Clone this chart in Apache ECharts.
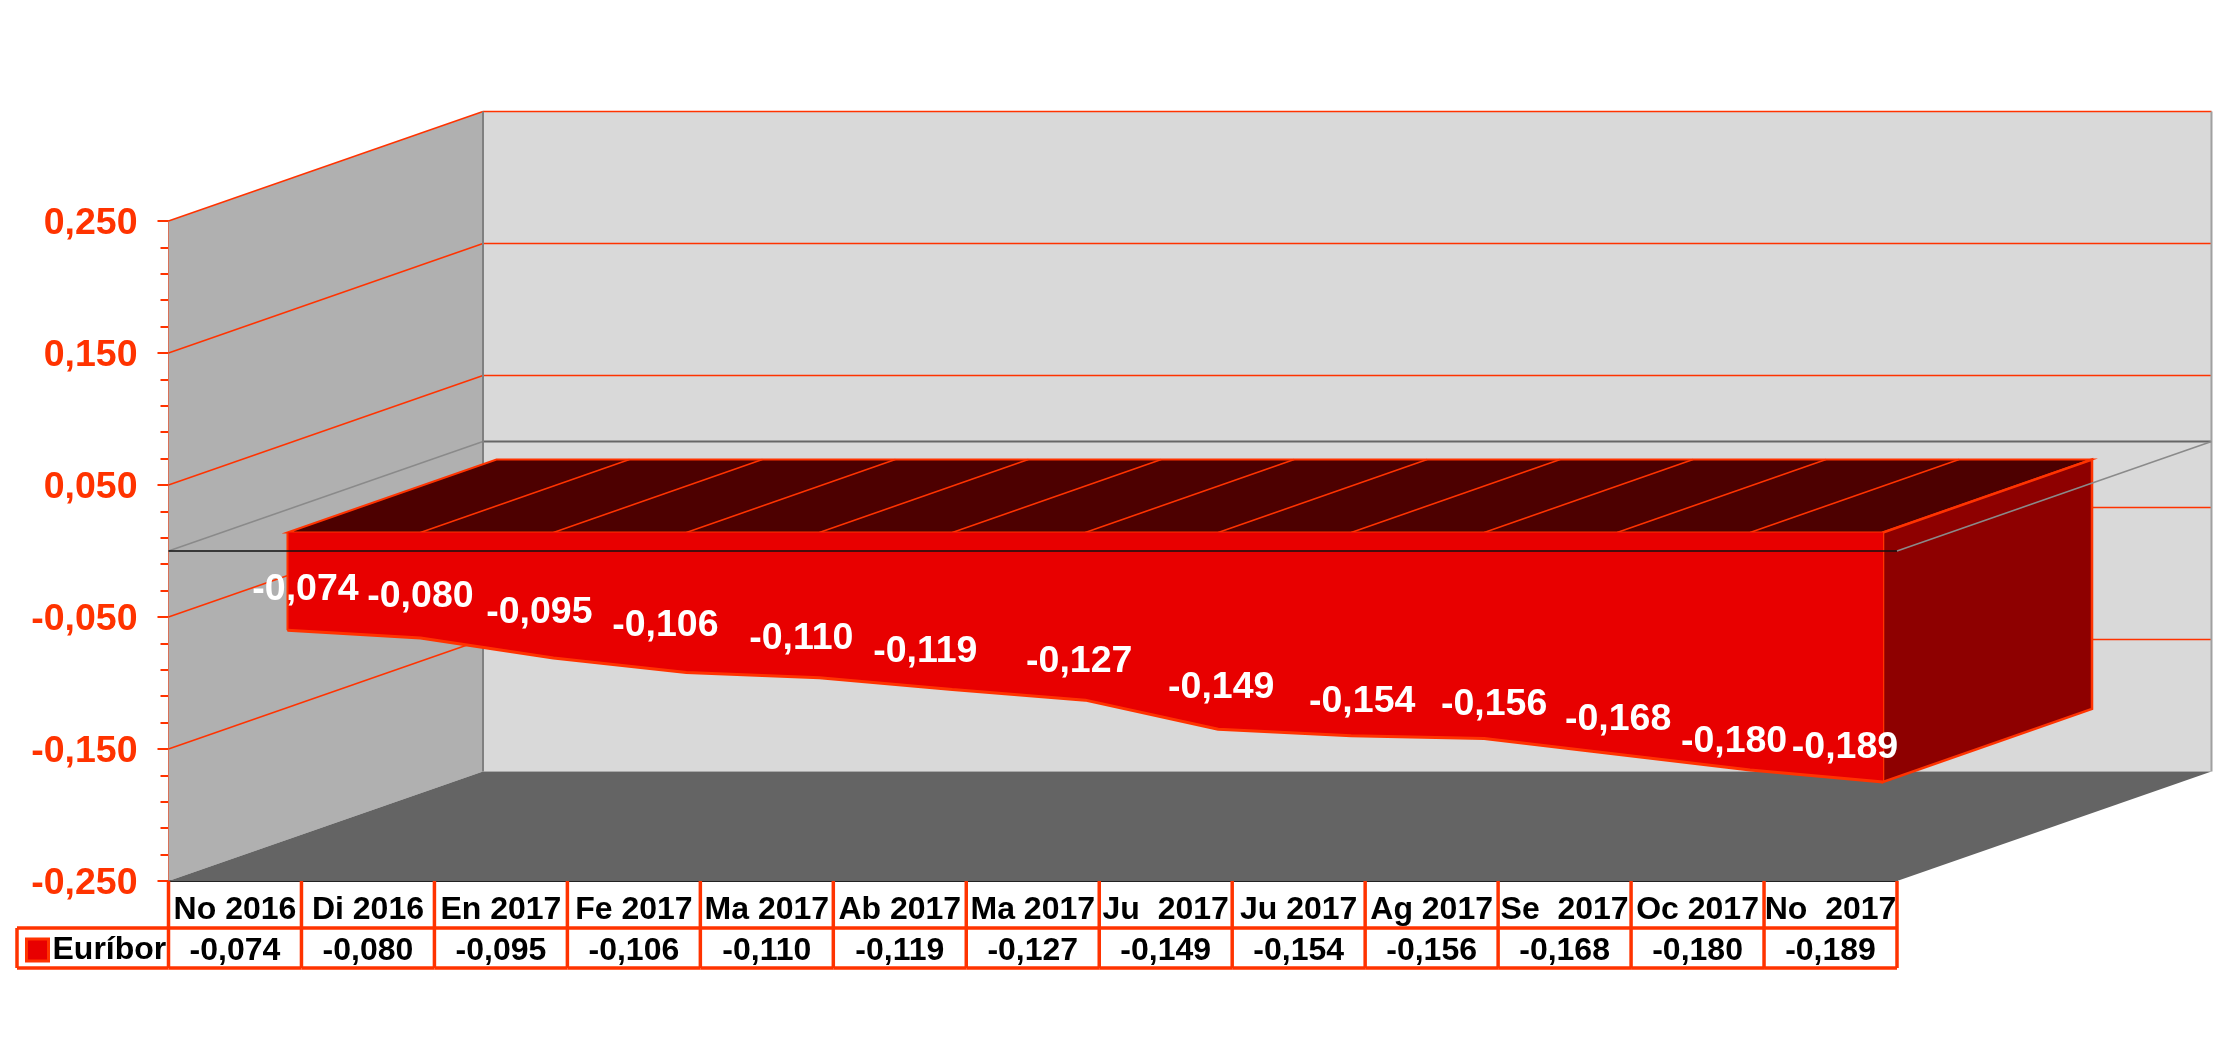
<!DOCTYPE html>
<html><head><meta charset="utf-8">
<style>html,body{margin:0;padding:0;background:#fff}#c{width:2221px;height:1061px}</style>
<script src="https://cdn.jsdelivr.net/npm/echarts@6/dist/echarts.min.js"></script>
</head><body><div id="c"></div>
<script>
const categories = ['No 2016','Di 2016','En 2017','Fe 2017','Ma 2017','Ab 2017','Ma 2017','Ju  2017','Ju 2017','Ag 2017','Se  2017','Oc 2017','No  2017'];
const euribor = [-0.074,-0.080,-0.095,-0.106,-0.110,-0.119,-0.127,-0.149,-0.154,-0.156,-0.168,-0.180,-0.189];
const yTicks = [0.25,0.15,0.05,-0.05,-0.15,-0.25];
const seriesName = 'Euríbor';

// layout only (pixels), not data
const labelNudgeX = [18,0,-14,-21,-18,-27,-6,3,11,10,1,-16,-38];
const labelNudgeY = [-41,-41,-45,-47,-39,-38,-38,-42,-34,-34,-35,-28,-34];
const WALL = {dx:314.5, dy:-109.5};
const BLOCK = {dx:209, dy:-73};
const FRONT = {dx:52.5, dy:-18.5};
const ROW = {h1:47, h2:40, legendLeft:17};
const GRID = {left:168.5, top:221, width:1728.5, height:660};
const ORANGE = '#ff3300', FONT = '"Liberation Sans", Arial, sans-serif';

const fmt = v => v.toFixed(3).replace('.', ',');
const line = (x1,y1,x2,y2,stroke,lineWidth) => ({type:'line',shape:{x1,y1,x2,y2},style:{stroke,lineWidth},silent:true});
const poly = (points,fill,stroke,lineWidth) => ({type:'polygon',shape:{points},style:{fill,stroke,lineWidth},silent:true});

function renderWalls(p, api){
  const c = p.coordSys, L=c.x, R=c.x+c.width;
  const y = v => api.coord([0,v])[1];
  const top=y(0.25), bot=y(-0.25);
  const ch=[
    poly([[L,top],[L+WALL.dx,top+WALL.dy],[L+WALL.dx,bot+WALL.dy],[L,bot]],'#b0b0b0'),
    poly([[L+WALL.dx,top+WALL.dy],[R+WALL.dx,top+WALL.dy],[R+WALL.dx,bot+WALL.dy],[L+WALL.dx,bot+WALL.dy]],'#d9d9d9'),
    poly([[L,bot],[L+WALL.dx,bot+WALL.dy],[R+WALL.dx,bot+WALL.dy],[R,bot]],'#646464')
  ];
  yTicks.forEach(v=>{
    const yy=y(v);
    if(v>-0.25) ch.push(line(L,yy,L+WALL.dx,yy+WALL.dy,ORANGE,1.5));
    if(v>-0.25) ch.push(line(L+WALL.dx,yy+WALL.dy,R+WALL.dx,yy+WALL.dy,ORANGE,1.5));
  });
  const z=y(0);
  ch.push(line(L,z,L+WALL.dx,z+WALL.dy,'#8a8a8a',1.5));
  ch.push(line(L+WALL.dx,z+WALL.dy,R+WALL.dx,z+WALL.dy,'#666666',2));
  ch.push(line(L+WALL.dx,top+WALL.dy,L+WALL.dx,bot+WALL.dy,'#808080',2));
  ch.push(line(R+WALL.dx,top+WALL.dy,R+WALL.dx,bot+WALL.dy,'#a0a0a0',2));
  return {type:'group',children:ch};
}
function renderBlock(p, api){
  const n=categories.length;
  const pt=(i,v)=>api.coord([i,v]);
  const a=pt(0,0), b=pt(n-1,0), e=pt(n-1,euribor[n-1]);
  const d=(q)=>[q[0]+BLOCK.dx,q[1]+BLOCK.dy];
  const ch=[
    poly([a,d(a),d(b),b],'#4d0000',ORANGE,2),
    poly([b,d(b),d(e),e],'#8e0000',ORANGE,2.5)
  ];
  for(let i=1;i<n-1;i++){const q=pt(i,0),r=d(q);ch.push(line(q[0],q[1],r[0],r[1],ORANGE,1.5));}
  return {type:'group',children:ch};
}
function renderEdges(p, api){
  const a=api.coord([0,0]), e=api.coord([0,euribor[0]]);
  return line(a[0],a[1],e[0],e[1],ORANGE,2);
}
function renderZero(p, api){
  const c=p.coordSys, L=c.x, R=c.x+c.width, z=api.coord([0,0])[1];
  return {type:'group',children:[
    line(L,z,R,z,'#111111',1.5),
    line(R,z,R+WALL.dx,z+WALL.dy,'#8a8a8a',1.5)
  ]};
}
function renderTable(p, api){
  const i=api.value(0), c=p.coordSys, w=c.width/categories.length;
  const bot=c.y+c.height, x0=c.x+i*w, x1=x0+w, y1=bot+ROW.h1, y2=y1+ROW.h2;
  const ch=[
    line(x1,bot,x1,y2,ORANGE,3.5),
    line(x0,y1,x1,y1,ORANGE,3.5),
    line(x0,y2,x1,y2,ORANGE,3.5),
    {type:'text',silent:true,style:{text:fmt(api.value(1)),x:(x0+x1)/2,y:(y1+y2)/2+3,align:'center',verticalAlign:'middle',
      fill:'#000',font:'bold 32px '+FONT}}
  ];
  if(i===0){
    ch.push(line(x0,bot,x0,y2,ORANGE,3.5));
    ch.push(line(ROW.legendLeft,y1,x0,y1,ORANGE,3.5));
    ch.push(line(ROW.legendLeft,y2,x0,y2,ORANGE,3.5));
    ch.push(line(ROW.legendLeft,y1,ROW.legendLeft,y2,ORANGE,3.5));
  }
  return {type:'group',children:ch};
}

const idx = categories.map((_,i)=>[i,euribor[i]]);
const hiddenX = {type:'category',gridIndex:1,data:categories,show:false};
const option = {
  animation:false,
  backgroundColor:'#fff',
  textStyle:{fontFamily:FONT},
  grid:[
    {left:GRID.left,top:GRID.top,width:GRID.width,height:GRID.height},
    {left:GRID.left+FRONT.dx,top:GRID.top+FRONT.dy,width:GRID.width,height:GRID.height}
  ],
  legend:{
    data:[{name:seriesName,icon:'rect'}],
    left:25,top:934,itemWidth:22,itemHeight:22,itemGap:0,padding:0,
    itemStyle:{color:'#e80000',borderColor:ORANGE,borderWidth:3},
    textStyle:{color:'#000',fontFamily:FONT,fontWeight:'bold',fontSize:32,padding:[0,0,0,-1]},
    selectedMode:false
  },
  xAxis:[
    {type:'category',gridIndex:0,data:categories,position:'bottom',
     axisLine:{onZero:false,lineStyle:{color:'#222222',width:2}},axisTick:{show:false},
     axisLabel:{interval:0,color:'#000',fontFamily:FONT,fontWeight:'bold',fontSize:32,margin:13}},
    hiddenX
  ],
  yAxis:[
    {type:'value',gridIndex:0,min:-0.25,max:0.25,interval:0.1,
     axisLine:{show:true,lineStyle:{color:ORANGE,width:2}},
     axisTick:{show:true,length:11,lineStyle:{color:ORANGE,width:2}},
     minorTick:{show:true,splitNumber:5,length:8,lineStyle:{color:ORANGE,width:2}},
     splitLine:{show:false},
     axisLabel:{margin:31,formatter:v=>'{t|'+fmt(v)+'}',
       rich:{t:{color:ORANGE,fontFamily:FONT,fontWeight:'bold',fontSize:37.5,padding:[6,0,0,0]}}}},
    {type:'value',gridIndex:1,min:-0.25,max:0.25,interval:0.1,show:false,splitLine:{show:false}}
  ],
  series:[
    {type:'custom',name:'walls',xAxisIndex:0,yAxisIndex:0,z:1,silent:true,data:[[0,0]],renderItem:renderWalls,tooltip:{show:false}},
    {type:'custom',name:'block',xAxisIndex:1,yAxisIndex:1,z:2,silent:true,data:[[0,0]],renderItem:renderBlock},
    {type:'line',name:seriesName,xAxisIndex:1,yAxisIndex:1,z:3,
     data:euribor.map((v,i)=>({value:v,label:{offset:[labelNudgeX[i],labelNudgeY[i]]}})),
     showSymbol:true,showAllSymbol:true,symbol:'circle',symbolSize:1,
     itemStyle:{color:ORANGE},
     lineStyle:{color:ORANGE,width:3},
     areaStyle:{color:'#e80000',opacity:1,origin:0},
     label:{show:true,position:'inside',color:'#fff',fontFamily:FONT,fontWeight:'bold',fontSize:37.5,formatter:p=>fmt(p.value)}},
    {type:'custom',name:'edge',xAxisIndex:1,yAxisIndex:1,z:4,silent:true,data:[[0,0]],renderItem:renderEdges},
    {type:'custom',name:'zero',xAxisIndex:0,yAxisIndex:0,z:4,silent:true,data:[[0,0]],renderItem:renderZero},
    {type:'custom',name:'table',xAxisIndex:0,yAxisIndex:0,z:5,silent:true,data:idx,renderItem:renderTable,clip:false}
  ]
};
const chart = echarts.init(document.getElementById('c'),null,{renderer:'canvas',width:2221,height:1061});
chart.setOption(option);
</script></body></html>
